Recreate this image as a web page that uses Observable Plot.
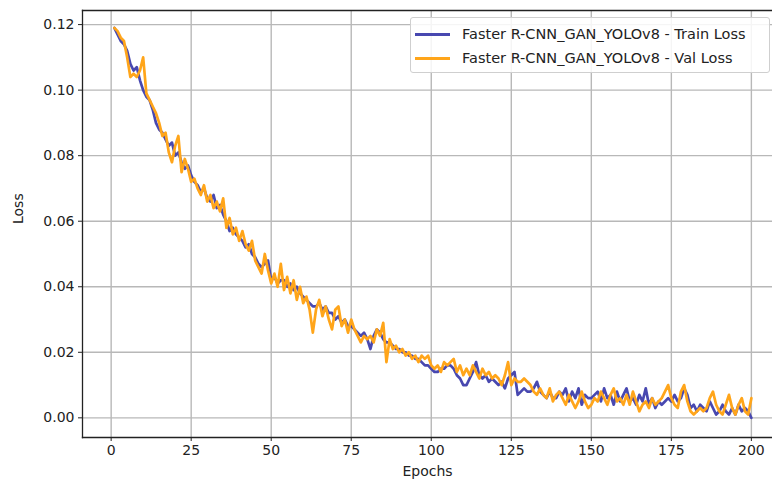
<!DOCTYPE html>
<html>
<head>
<meta charset="utf-8">
<script src="https://cdn.jsdelivr.net/npm/d3@7"></script>
<script src="https://cdn.jsdelivr.net/npm/@observablehq/plot@0.6"></script>
<style>
  html, body { margin: 0; padding: 0; background: #fff; }
  #wrap { position: relative; width: 772px; height: 487px; font-family: "DejaVu Sans", sans-serif; }
  #legend {
    position: absolute; left: 410px; top: 17px; width: 360px; height: 56px;
    border: 1px solid #cfcfcf; border-radius: 3px; background: rgba(255,255,255,0.85);
    box-sizing: border-box; font-size: 14.5px; color: #222;
  }
  .row { position: absolute; left: 0; height: 20px; display: flex; align-items: center; }
  .sw { display: inline-block; width: 35px; height: 0; border-top: 3px solid; margin-left: 4px; margin-right: 12px; }
</style>
</head>
<body>
<div id="wrap"></div>
<script>
const seriesNames = ["Faster R-CNN_GAN_YOLOv8 - Train Loss", "Faster R-CNN_GAN_YOLOv8 - Val Loss"];
const seriesColors = ["#4848b0", "#ffa51a"];
const xTicks = [0, 25, 50, 75, 100, 125, 150, 175, 200];
const yTicks = [0.00, 0.02, 0.04, 0.06, 0.08, 0.10, 0.12];
const xLabel = "Epochs";
const yLabel = "Loss";
const xDomain = [-8.95, 206.6];
const yDomain = [-0.006, 0.1243];

const epochs = d3.range(1, 201);

const trainLoss = [
  0.119, 0.117, 0.115, 0.114, 0.112, 0.108, 0.106, 0.107, 0.103, 0.100,
  0.098, 0.097, 0.094, 0.090, 0.088, 0.087, 0.085, 0.083, 0.084, 0.080,
  0.081, 0.078, 0.076, 0.077, 0.074, 0.072, 0.071, 0.069, 0.070, 0.067,
  0.066, 0.068, 0.064, 0.065, 0.062, 0.060, 0.057, 0.058, 0.056, 0.055,
  0.054, 0.052, 0.053, 0.050, 0.049, 0.047, 0.046, 0.047, 0.048, 0.042,
  0.043, 0.041, 0.042, 0.042, 0.040, 0.041, 0.039, 0.040, 0.038, 0.037,
  0.036, 0.035, 0.034, 0.034, 0.035, 0.033, 0.034, 0.032, 0.032, 0.030,
  0.031, 0.029, 0.030, 0.028, 0.028, 0.027, 0.026, 0.025, 0.026, 0.024,
  0.021, 0.025, 0.027, 0.026, 0.024, 0.023, 0.023, 0.022, 0.021, 0.021,
  0.020, 0.020, 0.019, 0.019, 0.018, 0.018, 0.017, 0.016, 0.016, 0.015,
  0.014, 0.014, 0.015, 0.015, 0.016, 0.016, 0.015, 0.013, 0.012, 0.010,
  0.010, 0.012, 0.014, 0.017, 0.013, 0.012, 0.013, 0.011, 0.012, 0.011,
  0.010, 0.011, 0.009, 0.012, 0.013, 0.014, 0.007, 0.008, 0.009, 0.008,
  0.008, 0.009, 0.011, 0.008, 0.007, 0.006, 0.008, 0.006, 0.006, 0.008,
  0.007, 0.009, 0.005, 0.008, 0.006, 0.009, 0.004, 0.007, 0.006, 0.006,
  0.007, 0.008, 0.005, 0.009, 0.006, 0.007, 0.004, 0.008, 0.005, 0.007,
  0.009, 0.005, 0.006, 0.004, 0.007, 0.005, 0.009, 0.004, 0.006, 0.003,
  0.005, 0.004, 0.005, 0.006, 0.005, 0.007, 0.005, 0.006, 0.009, 0.007,
  0.003, 0.004, 0.002, 0.004, 0.003, 0.002, 0.005, 0.003, 0.001, 0.002,
  0.004, 0.002, 0.001, 0.003, 0.001, 0.004, 0.002, 0.003, 0.002, 0.000
];

const valLoss = [
  0.119, 0.118, 0.116, 0.115, 0.110, 0.104, 0.105, 0.104, 0.106, 0.110,
  0.099, 0.097, 0.095, 0.093, 0.090, 0.086, 0.087, 0.081, 0.078, 0.083,
  0.086, 0.075, 0.079, 0.076, 0.072, 0.073, 0.070, 0.068, 0.071, 0.066,
  0.068, 0.064, 0.066, 0.063, 0.067, 0.058, 0.061, 0.056, 0.058, 0.054,
  0.057, 0.053, 0.051, 0.054, 0.048, 0.046, 0.044, 0.050, 0.045, 0.041,
  0.044, 0.040, 0.047, 0.039, 0.043, 0.038, 0.042, 0.036, 0.040, 0.035,
  0.037, 0.033, 0.026, 0.033, 0.036, 0.031, 0.034, 0.030, 0.027, 0.033,
  0.034, 0.028, 0.030, 0.026, 0.030, 0.027, 0.025, 0.023, 0.025, 0.024,
  0.025, 0.023, 0.027, 0.025, 0.029, 0.017, 0.024, 0.021, 0.022, 0.020,
  0.021, 0.019, 0.020, 0.018, 0.019, 0.017, 0.019, 0.018, 0.019, 0.016,
  0.015, 0.016, 0.014, 0.017, 0.016, 0.017, 0.018, 0.014, 0.016, 0.013,
  0.015, 0.013, 0.016, 0.014, 0.012, 0.015, 0.013, 0.014, 0.012, 0.013,
  0.012, 0.010, 0.013, 0.017, 0.010, 0.012, 0.011, 0.011, 0.012, 0.011,
  0.010, 0.008, 0.007, 0.009, 0.007, 0.006, 0.009, 0.005, 0.007, 0.008,
  0.006, 0.004, 0.007, 0.005, 0.003, 0.005, 0.008, 0.005, 0.003, 0.004,
  0.006, 0.005, 0.008, 0.006, 0.004, 0.007, 0.009, 0.005, 0.006, 0.004,
  0.007, 0.004, 0.008, 0.005, 0.002, 0.004, 0.005, 0.003, 0.006, 0.004,
  0.005, 0.006, 0.008, 0.010, 0.006, 0.004, 0.003, 0.008, 0.010, 0.005,
  0.002, 0.001, 0.002, 0.003, 0.002, 0.003, 0.006, 0.008, 0.004, 0.002,
  0.001, 0.004, 0.007, 0.003, 0.001, 0.004, 0.006, 0.002, 0.001, 0.006
];

const rows = [];
epochs.forEach((e, i) => {
  rows.push({epoch: e, loss: trainLoss[i], series: seriesNames[0]});
});
epochs.forEach((e, i) => {
  rows.push({epoch: e, loss: valLoss[i], series: seriesNames[1]});
});

const chart = Plot.plot({
  width: 772,
  height: 487,
  marginLeft: 82,
  marginRight: 0,
  marginTop: 10,
  marginBottom: 50,
  style: { fontFamily: "DejaVu Sans, sans-serif", fontSize: "14px", color: "#222", background: "#fff" },
  x: { domain: xDomain, label: null },
  y: { domain: yDomain, label: null },
  color: { domain: seriesNames, range: seriesColors },
  marks: [
    Plot.gridX(xTicks, { stroke: "#b8b8b8", strokeOpacity: 1, strokeWidth: 1.4 }),
    Plot.gridY(yTicks, { stroke: "#b8b8b8", strokeOpacity: 1, strokeWidth: 1.4 }),
    Plot.line(rows, { x: "epoch", y: "loss", z: "series", stroke: "series", strokeWidth: 2.7, curve: "linear" }),
    Plot.frame({ anchor: "left", stroke: "#222", strokeWidth: 1.3 }),
    Plot.frame({ anchor: "bottom", stroke: "#222", strokeWidth: 1.3 }),
    Plot.frame({ anchor: "top", stroke: "#222", strokeWidth: 1.3 }),
    Plot.axisX(xTicks, { tickSize: 4, tickPadding: 4, label: null, stroke: "#222" }),
    Plot.axisY(yTicks, { tickSize: 4, tickPadding: 4, tickFormat: d3.format(".2f"), label: null, stroke: "#222" }),
    Plot.text([xLabel], { frameAnchor: "bottom", dy: 38, fontSize: 14, fill: "#222" }),
    Plot.text([yLabel], { frameAnchor: "left", dx: -64, rotate: -90, fontSize: 14, fill: "#222" })
  ]
});

const wrap = document.getElementById("wrap");
wrap.appendChild(chart);

const legend = document.createElement("div");
legend.id = "legend";
seriesNames.forEach((name, i) => {
  const row = document.createElement("div");
  row.className = "row";
  row.style.top = (6 + i * 24) + "px";
  const sw = document.createElement("span");
  sw.className = "sw";
  sw.style.borderTopColor = seriesColors[i];
  const label = document.createElement("span");
  label.textContent = name;
  row.appendChild(sw);
  row.appendChild(label);
  legend.appendChild(row);
});
wrap.appendChild(legend);
</script>
</body>
</html>
